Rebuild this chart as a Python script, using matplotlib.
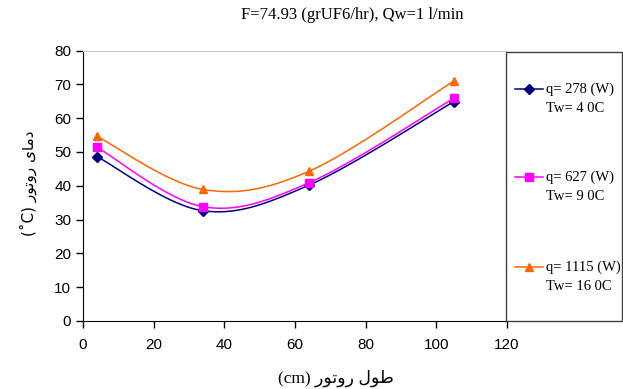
import numpy as np
import matplotlib
matplotlib.use("Agg")
import matplotlib.pyplot as plt
from matplotlib.lines import Line2D
from matplotlib.patches import Rectangle

# data
length_cm = [4, 34, 64, 105]
temp_q278 = [48.6, 32.6, 40.2, 64.9]
temp_q627 = [51.4, 33.8, 40.9, 65.9]
temp_q1115 = [54.6, 38.9, 44.3, 71.0]

series_labels = ["q= 278 (W)\nTw= 4 0C", "q= 627 (W)\nTw= 9 0C", "q= 1115 (W)\nTw= 16 0C"]
series_colors = ["#000080", "#FF00FF", "#FF6600"]
series_markers = ["D", "s", "^"]

title = "F=74.93 (grUF6/hr), Qw=1 l/min"
# Persian labels written as visual-order presentation forms (no shaping engine here)
xlabel = "(cm) \uFEAD\uFEEE\uFE97\uFEED\uFEAD \uFEDD\uFEEE\uFEC3"
ylabel = "(\u02DAC) \uFEAD\uFEEE\uFE97\uFEED\uFEAD \uFEEF\uFE8E\uFEE3\uFEA9"


def smooth(x, y, n=30):
    # excel-like smoothed line: cubic bezier with neighbour-based control points
    x = np.asarray(x, float)
    y = np.asarray(y, float)
    px = np.concatenate([[x[0]], x, [x[-1]]])
    py = np.concatenate([[y[0]], y, [y[-1]]])
    xs, ys = [], []
    t = np.linspace(0, 1, n)
    for i in range(1, len(px) - 2):
        p0 = np.array([px[i], py[i]])
        p3 = np.array([px[i + 1], py[i + 1]])
        c1 = p0 + (np.array([px[i + 1], py[i + 1]]) - np.array([px[i - 1], py[i - 1]])) / 6
        c2 = p3 - (np.array([px[i + 2], py[i + 2]]) - np.array([px[i], py[i]])) / 6
        b = ((1 - t) ** 3)[:, None] * p0 + (3 * (1 - t) ** 2 * t)[:, None] * c1 \
            + (3 * (1 - t) * t ** 2)[:, None] * c2 + (t ** 3)[:, None] * p3
        xs.extend(b[:, 0])
        ys.extend(b[:, 1])
    return xs, ys


fig = plt.figure(figsize=(6.23, 3.89), dpi=100)
ax = fig.add_axes([83 / 623, 1 - 321 / 389, (507 - 83) / 623, (321 - 50.5) / 389])

all_series = [temp_q278, temp_q627, temp_q1115]
for vals, col, mk in zip(all_series, series_colors, series_markers):
    sx, sy = smooth(length_cm, vals)
    ax.plot(sx, sy, color=col, lw=1.1)
    ax.plot(length_cm, vals, ls="none", marker=mk, color=col,
            markersize=5 if mk == "D" else 6)

ax.set_xlim(0, 120)
ax.set_ylim(0, 80)
ax.set_xticks(range(0, 121, 20))
ax.set_yticks(range(0, 81, 10))
ax.tick_params(direction="out", length=5, width=1, labelsize=11, colors="black")
ax.tick_params(axis="x", pad=7)
for lab in ax.get_xticklabels() + ax.get_yticklabels():
    lab.set_family(["Liberation Sans", "DejaVu Sans"])
ax.spines["right"].set_visible(False)
ax.spines["top"].set_color("#c8c8c8")
ax.spines["left"].set_color("black")
ax.spines["bottom"].set_color("black")

fig.text(352 / 623, 1 - 15 / 389, title, ha="center", va="center",
         fontsize=12, family=["Liberation Serif", "DejaVu Sans"])
fig.text(336 / 623, 1 - 378 / 389, xlabel, ha="center", va="center",
         fontsize=12.5, family=["Liberation Serif", "DejaVu Sans"])
fig.text(28 / 623, 1 - 183 / 389, ylabel, ha="center", va="center", rotation=90,
         fontsize=11, family=["DejaVu Sans"])

# legend box drawn by hand
fig.patches.append(Rectangle((506 / 623, 1 - 321 / 389), (622 - 506) / 623, (321 - 52) / 389,
                             transform=fig.transFigure, fill=False, ec="#404040", lw=1))
entry_y = [89, 177, 267]
for yy, col, mk, lab in zip(entry_y, series_colors, series_markers, series_labels):
    fy = 1 - yy / 389
    fig.lines.append(Line2D([515 / 623, 543 / 623], [fy, fy], transform=fig.transFigure,
                            color=col, lw=1.1))
    fig.lines.append(Line2D([529 / 623], [fy], transform=fig.transFigure, ls="none",
                            marker=mk, color=col, markersize=5 if mk == "D" else 6))
    l1, l2 = lab.split("\n")
    fig.text(546 / 623, fy, l1, ha="left", va="center", fontsize=10.5,
             family=["Liberation Serif", "DejaVu Sans"])
    fig.text(546 / 623, 1 - (yy + 20) / 389, l2, ha="left", va="center", fontsize=10.5,
             family=["Liberation Serif", "DejaVu Sans"])

fig.savefig("out.png", dpi=100)
